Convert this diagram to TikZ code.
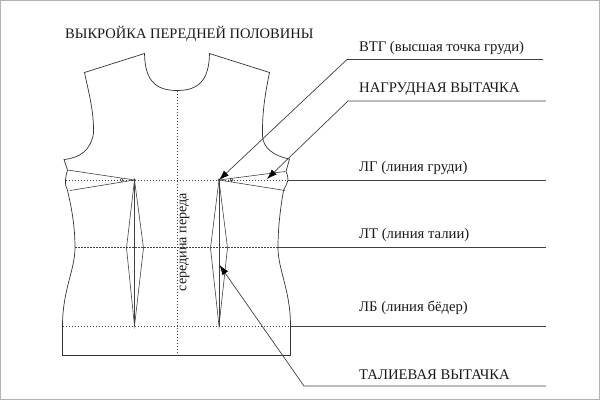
\documentclass[tikz,border=0pt]{standalone}
\usepackage{fontspec}
\setmainfont{Liberation Serif}
\usetikzlibrary{arrows.meta}

\begin{document}
\begin{tikzpicture}[x=1pt, y=-1pt, >={Latex[length=10pt,width=7pt,black]}]

% Define styles
\tikzstyle{outline} = [draw=black!80, line width=0.7pt]
\tikzstyle{dart} = [draw=black!75, line width=0.6pt]
\tikzstyle{guide} = [draw=black!75, line width=0.8pt, dash pattern=on 1.5pt off 1.5pt]
\tikzstyle{leader} = [draw=black!75, line width=0.7pt]
\tikzstyle{label} = [anchor=base west, inner sep=0pt, text=black!90, font=\fontsize{14.7}{17}\selectfont]

\useasboundingbox (0,0) rectangle (600,400);

% Frame
\draw [black!30, line width=1pt] (0.5,0.5) rectangle (599.5,399.5);

% Coordinates
\coordinate (apexL) at (134.5,180);
\coordinate (apexR) at (219,180);
\coordinate (hipL) at (134.5,326);
\coordinate (hipR) at (219,326);
\coordinate (bustL) at (65.5,180);
\coordinate (bustR) at (288,180);
\coordinate (waistL) at (75,247.5);
\coordinate (waistR) at (278,247.5);
\coordinate (seatL) at (62.5,326);
\coordinate (seatR) at (290.5,326);
\coordinate (neck) at (177,90.5);
\coordinate (hem) at (177,355.5);
\coordinate (endB) at (546,180);
\coordinate (endW) at (546,247.5);
\coordinate (endS) at (546,326);

% Outline
\draw [outline] (144.5,53.5) .. controls (145,80) and (155,90.5) .. (neck)
  .. controls (199,90.5) and (209,80) .. (209.5,53.5) -- (269.5,72.5)
  .. controls (266,90) and (262,110) .. (262.5,136)
  .. controls (263,148) and (274,156) .. (289.5,159)
  -- (286,171.5) .. controls (287.5,175) and (288,177) .. (bustR)
  .. controls (287,184) and (285,187) .. (283.5,190.5)
  .. controls (281,205) and (278,225) .. (waistR)
  .. controls (278,270) and (290.5,290) .. (seatR)
  -- (290.5,355.5) -- (62.5,355.5) -- (seatL)
  .. controls (62.5,290) and (75,270) .. (waistL)
  .. controls (75,225) and (71,205) .. (67.5,190.5)
  .. controls (66,187) and (65,184) .. (bustL)
  .. controls (65.5,177) and (66.5,174) .. (67.5,170)
  -- (64,159.5) .. controls (80,158) and (91,150) .. (93.5,133)
  .. controls (94,110) and (88,90) .. (84.5,72.5) -- cycle;

% Darts
\draw [dart] (67.5,170) -- (apexL) -- (70,190.5);
\draw [dart] (285,171.5) -- (apexR) -- (285,190.5);
\draw [dart] (apexL) -- (hipL);
\draw [dart] (apexR) -- (hipR);
\draw [dart] (apexL) -- (126.5,248) -- (hipL) -- (143.5,248) -- cycle;
\draw [dart] (apexR) -- (210.5,248) -- (hipR) -- (227.5,248) -- cycle;
\draw [dart, line width=0.4pt] (121.5,180) circle (1.5pt);
\draw [dart, line width=0.4pt] (231.5,180) circle (1.5pt);
\fill [black!80] (apexL) circle (1.2pt);
\fill [black!80] (apexR) circle (1.2pt);

% Guides
\draw [guide] (bustL) -- (bustR);
\draw [guide] (waistL) -- (waistR);
\draw [guide] (seatL) -- (seatR);
\draw [guide] (neck) -- (hem);

% Connections
\draw [leader] (bustR) -- (endB);
\draw [leader] (waistR) -- (endW);
\draw [leader] (seatR) -- (endS);
\draw [leader, ->] (543,59.5) -- (347,59.5) -- (apexR);
\draw [leader, ->] (546,101) -- (348,101) -- (267,179);
\draw [leader, ->] (546,386) -- (304,386) -- (219.5,265);

% Labels
\node [label, font=\fontsize{14.5}{17}\selectfont] (title) at (65,38) {ВЫКРОЙКА ПЕРЕДНЕЙ ПОЛОВИНЫ};
\node [label] (vtg) at (359,51) {ВТГ (высшая точка груди)};
\node [label] (dartB) at (359,92) {НАГРУДНАЯ ВЫТАЧКА};
\node [label] (lg) at (359,171.5) {ЛГ (линия груди)};
\node [label] (lt) at (359,238.5) {ЛТ (линия талии)};
\node [label] (lb) at (359,311) {ЛБ (линия бёдер)};
\node [label] (dartW) at (359,379) {ТАЛИЕВАЯ ВЫТАЧКА};
\node [label, anchor=center, rotate=90, font=\fontsize{14.1}{16}\selectfont] (centre) at (184.5,242) {середина переда};

\end{tikzpicture}
\end{document}
